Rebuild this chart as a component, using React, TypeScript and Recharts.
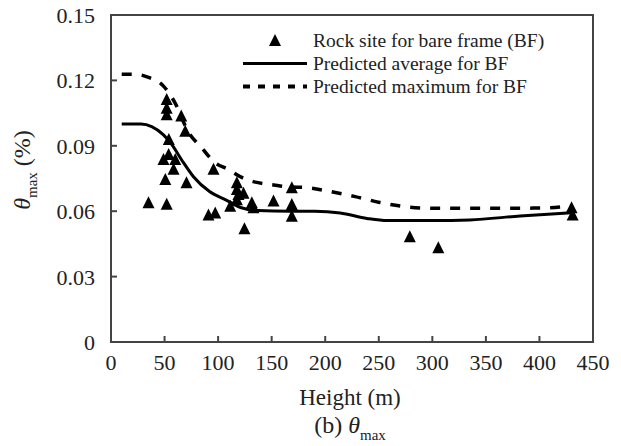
import React from 'react';
import { ComposedChart, Line, Scatter, XAxis, YAxis, ReferenceArea } from 'recharts';

// measured rock-site points (height m, theta_max %)
const rockX = [35, 52, 50.7, 49, 53.8, 60, 58.4, 54, 52, 52, 52, 65.6, 69.3, 70.5, 95.7, 91, 97.3, 111.3, 117.5, 117.5, 119, 123.7, 117.5, 131.5, 133, 124.6, 151.7, 168.8, 168.8, 168.8, 279, 305.6, 430, 431];
const rockY = [0.0636, 0.063, 0.0743, 0.0835, 0.0858, 0.0835, 0.079, 0.0927, 0.104, 0.107, 0.111, 0.1034, 0.0965, 0.0728, 0.079, 0.058, 0.059, 0.062, 0.0728, 0.0697, 0.0674, 0.068, 0.065, 0.0636, 0.0613, 0.0517, 0.0644, 0.0705, 0.0628, 0.0575, 0.048, 0.043, 0.0613, 0.058];

const avgX = [10, 28, 38, 49, 57, 66, 77, 92, 108, 121, 137, 167, 190, 214, 239, 258, 300, 335, 382, 430];
const avgY = [0.1, 0.1, 0.0988, 0.095, 0.0904, 0.0835, 0.0758, 0.069, 0.065, 0.0617, 0.0603, 0.06, 0.06, 0.0592, 0.0567, 0.0557, 0.0557, 0.056, 0.0578, 0.0593];

const maxX = [10, 23, 35, 49, 60, 72, 85, 96, 110, 122, 136, 152, 164, 183, 205, 228, 251, 276, 304, 350, 407, 430];
const maxY = [0.1228, 0.1228, 0.1214, 0.1174, 0.1095, 0.0965, 0.0889, 0.0827, 0.079, 0.0755, 0.0732, 0.072, 0.0712, 0.0708, 0.069, 0.0667, 0.064, 0.062, 0.0613, 0.0613, 0.0615, 0.0625];

const xTicks = [0, 50, 100, 150, 200, 250, 300, 350, 400, 450];
const yTicks = [0, 0.03, 0.06, 0.09, 0.12, 0.15];

const rock = rockX.map((x, i) => ({ x, y: rockY[i] }));
const avg = avgX.map((x, i) => ({ x, y: avgY[i] }));
const mx = maxX.map((x, i) => ({ x, y: maxY[i] }));

const FONT = 'Liberation Serif, serif';
const txt = { fontFamily: FONT, fill: '#222' };

const Tri = (props: any) => {
  const { cx, cy } = props;
  if (cx == null || cy == null) return null;
  return <path d={`M${cx},${cy - 7} L${cx + 6},${cy + 5} L${cx - 6},${cy + 5} Z`} fill="#000" />;
};

const XTick = (props: any) => {
  const { x, y, payload } = props;
  return (
    <text x={x} y={y + 18} textAnchor="middle" style={{ ...txt, fontSize: 22 }}>
      {payload.value}
    </text>
  );
};

const YTick = (props: any) => {
  const { x, y, payload } = props;
  const v = payload.value === 0 ? '0' : payload.value.toFixed(2);
  return (
    <text x={x - 8} y={y + 8} textAnchor="end" style={{ ...txt, fontSize: 22 }}>
      {v}
    </text>
  );
};

// x-axis title plus the panel caption underneath
const XLabel = (props: any) => {
  const { viewBox } = props;
  const cx = viewBox.x + viewBox.width / 2 - 2;
  return (
    <g>
      <text x={cx} y={405} textAnchor="middle" style={{ ...txt, fontSize: 23 }}>
        Height (m)
      </text>
      <text x={cx} y={433} textAnchor="middle" style={{ ...txt, fontSize: 24 }}>
        <tspan>(b) </tspan>
        <tspan fontStyle="italic">θ</tspan>
        <tspan fontSize={15} dy={7}>max</tspan>
      </text>
    </g>
  );
};

const YLabel = () => (
  <text transform="translate(30,170) rotate(-90)" textAnchor="middle" style={{ ...txt, fontSize: 24 }}>
    <tspan fontStyle="italic">θ</tspan>
    <tspan fontSize={15} dy={7}>max</tspan>
    <tspan dy={-7}> (%)</tspan>
  </text>
);

const row = { display: 'flex', alignItems: 'center', height: 23 };

export default function App() {
  return (
    <div style={{ position: 'absolute', left: 0, top: 0, width: 621, height: 446, background: '#fff', fontFamily: FONT }}>
      <ComposedChart width={621} height={446} margin={{ top: 15, right: 28, bottom: 64, left: 0 }}>
        <XAxis
          type="number"
          dataKey="x"
          domain={[0, 450]}
          ticks={xTicks}
          allowDataOverflow
          height={40}
          stroke="#444"
          strokeWidth={2}
          tickSize={-6}
          tickMargin={16}
          tick={<XTick />}
          label={<XLabel />}
        />
        <YAxis
          type="number"
          dataKey="y"
          domain={[0, 0.15]}
          ticks={yTicks}
          width={111}
          stroke="#444"
          strokeWidth={2}
          tickSize={-6}
          tickMargin={14}
          tick={<YTick />}
          label={<YLabel />}
        />
        <ReferenceArea x1={0} x2={450} y1={0} y2={0.15} fill="none" stroke="#444" strokeWidth={2} ifOverflow="visible" />
        <Line data={mx} dataKey="y" type="monotone" stroke="#000" strokeWidth={3.5} strokeDasharray="10 10" dot={false} isAnimationActive={false} />
        <Line data={avg} dataKey="y" type="monotone" stroke="#000" strokeWidth={3} dot={false} isAnimationActive={false} />
        <Scatter data={rock} dataKey="y" shape={<Tri />} isAnimationActive={false} />
      </ComposedChart>
      <div style={{ position: 'absolute', top: 29, left: 240, fontSize: 19.5, color: '#222', lineHeight: '22px' }}>
        <div style={row}>
          <svg width={73} height={23}>
            <path d="M35,5 L41,17 L29,17 Z" fill="#000" />
          </svg>
          <span>Rock site for bare frame (BF)</span>
        </div>
        <div style={row}>
          <svg width={73} height={23}>
            <line x1={3} x2={67} y1={11.5} y2={11.5} stroke="#000" strokeWidth={3} />
          </svg>
          <span>Predicted average for BF</span>
        </div>
        <div style={row}>
          <svg width={73} height={23}>
            <line x1={3} x2={67} y1={11.5} y2={11.5} stroke="#000" strokeWidth={4} strokeDasharray="7 8" />
          </svg>
          <span>Predicted maximum for BF</span>
        </div>
      </div>
    </div>
  );
}
